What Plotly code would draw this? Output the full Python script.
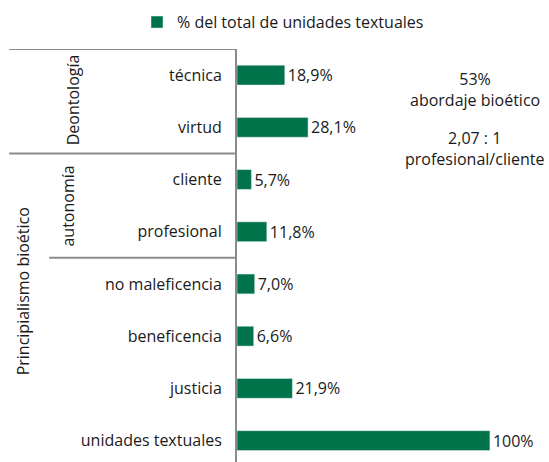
import plotly.graph_objects as go

# Datos
categorias = ['técnica', 'virtud', 'cliente', 'profesional', 'no maleficencia',
              'beneficencia', 'justicia', 'unidades textuales']
valores = [18.9, 28.1, 5.7, 11.8, 7.0, 6.6, 21.9, 100]
etiquetas = ['18,9%', '28,1%', '5,7%', '11,8%', '7,0%', '6,6%', '21,9%', '100%']
serie = '% del total de unidades textuales'
notas = ['53%<br>abordaje bioético', '2,07 : 1<br>profesional/cliente']

verde = '#00734A'
gris = '#8C8C8C'
texto = '#1A1A1A'
fuente = 'Open Sans'
tam = 16

fig = go.Figure()

fig.add_trace(go.Bar(
    name=serie,
    x=valores,
    y=categorias,
    orientation='h',
    width=0.38,
    marker_color=verde,
    text=etiquetas,
    textposition='outside',
    constraintext='none',
    cliponaxis=False,
    textfont=dict(size=tam, color=texto, family=fuente),
))

# Lineas de agrupacion (a la izquierda del eje)
for x0, y in [(-0.752, -0.5), (-0.752, 1.5), (-0.62, 3.5)]:
    fig.add_shape(type='line', xref='paper', yref='y', x0=x0, x1=0, y0=y, y1=y,
                  line=dict(color=gris, width=2))

# Etiquetas de grupo
grupos = [
    ('Deontología', -0.541, 0.48),
    ('autonomía', -0.558, 2.5),
    ('Principialismo bioético', -0.706, 4.14),
]
for txt, x, y in grupos:
    fig.add_annotation(text=txt, xref='paper', yref='y', x=x, y=y, textangle=-90,
                       xanchor='center', yanchor='middle', showarrow=False,
                       font=dict(size=tam, color=texto, family=fuente))

# Notas a la derecha
for txt, y in zip(notas, [0.901, 0.758]):
    fig.add_annotation(text=txt, xref='paper', yref='paper', x=0.785, y=y,
                       xanchor='center', yanchor='middle', showarrow=False,
                       font=dict(size=tam, color=texto, family=fuente))

fig.update_layout(
    width=549, height=462,
    margin=dict(t=49, b=0, l=237, r=9, autoexpand=False),
    paper_bgcolor='white',
    plot_bgcolor='white',
    font=dict(family=fuente, size=tam, color=texto),
    showlegend=True,
    legend=dict(orientation='h', x=-0.33, xanchor='left', y=1.065, yanchor='middle',
                font=dict(size=tam, color=texto, family=fuente)),
    xaxis=dict(range=[0, 119.8], showgrid=False, showticklabels=False, zeroline=False,
               showline=False),
    yaxis=dict(range=[7.41, -0.5], showgrid=False, showline=True, linecolor=gris,
               linewidth=2, ticks='outside', ticklen=10, tickcolor='rgba(0,0,0,0)',
               automargin=False,
               tickfont=dict(size=tam, color=texto, family=fuente)),
)

# quitar el margen de 8 px que pone la pagina
fig.write_html('out.html', config={'displayModeBar': False},
               post_script="document.body.style.margin='0';document.body.style.overflow='hidden';")
